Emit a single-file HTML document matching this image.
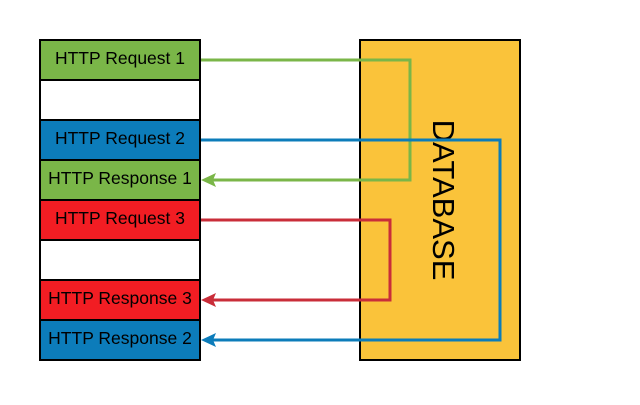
<!DOCTYPE html>
<html><head><meta charset="utf-8"><style>body{margin:0;background:#fff}</style></head><body>
<svg width="640" height="400" xmlns="http://www.w3.org/2000/svg" font-family="Liberation Sans, sans-serif">
<rect x="360" y="40" width="160" height="320" fill="#FAC33A" stroke="#000" stroke-width="2"/>
<text x="0" y="0" transform="translate(433,200) rotate(90)" text-anchor="middle" font-size="31" fill="#000">DATABASE</text>
<g stroke="#000" stroke-width="2">
<rect x="40" y="40" width="160" height="40" fill="#7AB648"/>
<rect x="40" y="80" width="160" height="40" fill="#fff"/>
<rect x="40" y="120" width="160" height="40" fill="#0C7CBA"/>
<rect x="40" y="160" width="160" height="40" fill="#7AB648"/>
<rect x="40" y="200" width="160" height="40" fill="#F21D23"/>
<rect x="40" y="240" width="160" height="40" fill="#fff"/>
<rect x="40" y="280" width="160" height="40" fill="#F21D23"/>
<rect x="40" y="320" width="160" height="40" fill="#0C7CBA"/>
</g>
<g font-size="17.5" text-anchor="middle" fill="#000">
<text x="120" y="64">HTTP Request 1</text>
<text x="120" y="144">HTTP Request 2</text>
<text x="120" y="184">HTTP Response 1</text>
<text x="120" y="224">HTTP Request 3</text>
<text x="120" y="304">HTTP Response 3</text>
<text x="120" y="344">HTTP Response 2</text>
</g>
<g fill="none" stroke-width="3">
<polyline points="201,60 410,60 410,180 212,180" stroke="#7AB648"/>
<polyline points="201,140 500,140 500,340 212,340" stroke="#0C7CBA"/>
<polyline points="201,220 390,220 390,300 212,300" stroke="#C92D39"/>
</g>
<polygon points="201,180 216,173 213,180 216,187" fill="#7AB648"/>
<polygon points="201,340 216,333 213,340 216,347" fill="#0C7CBA"/>
<polygon points="201,300 216,293 213,300 216,307" fill="#C92D39"/>
</svg>
</body></html>
